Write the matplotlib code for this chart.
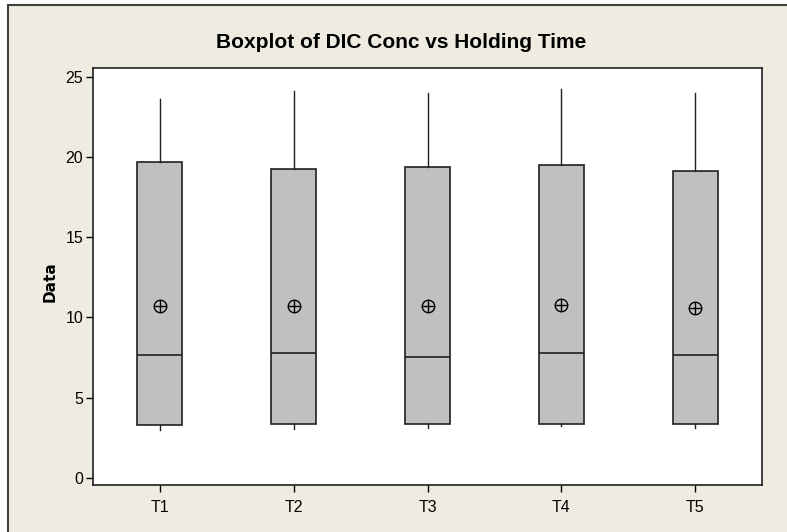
"""Minitab-style boxplot of DIC concentration by holding time."""

import matplotlib.pyplot as plt
from matplotlib.patches import Rectangle

plt.rcParams["font.family"] = ["Liberation Sans", "DejaVu Sans"]

groups = ["T1", "T2", "T3", "T4", "T5"]
q1 = [3.26, 3.37, 3.35, 3.35, 3.35]
medians = [7.65, 7.75, 7.56, 7.75, 7.67]
q3 = [19.70, 19.26, 19.35, 19.53, 19.10]
whisker_low = [3.0, 3.05, 3.1, 3.2, 3.1]
whisker_high = [23.6, 24.1, 24.0, 24.27, 24.0]
means = [10.7, 10.7, 10.68, 10.8, 10.6]

W, H = 787, 532
fig = plt.figure(figsize=(W / 100, H / 100), dpi=100, facecolor="white")

# beige panel with dark frame on top/left (image is cropped on the other sides)
panel = Rectangle((8 / W, -0.1), 1.2, 1.1 - 5 / H, transform=fig.transFigure,
                  facecolor="#EEEBE0", edgecolor="#404040", linewidth=1.5, zorder=-10)
fig.patches.append(panel)

ax = fig.add_axes([93 / W, 1 - 485 / H, (762 - 93) / W, (485 - 68) / H])
ax.set_facecolor("white")

stats = []
for i, g in enumerate(groups):
    stats.append({"label": g, "q1": q1[i], "med": medians[i], "q3": q3[i],
                  "whislo": whisker_low[i], "whishi": whisker_high[i], "fliers": []})

positions = list(range(1, len(groups) + 1))
ax.bxp(stats, positions=positions, widths=0.335, patch_artist=True, showcaps=False,
       boxprops=dict(facecolor="#C0C0C0", edgecolor="#202020", linewidth=1.2),
       medianprops=dict(color="#202020", linewidth=1.2),
       whiskerprops=dict(color="#202020", linewidth=1.0))

ax.plot(positions, means, linestyle="none", marker="o", markersize=9,
        markerfacecolor="none", markeredgecolor="black", markeredgewidth=1.0, zorder=5)
ax.plot(positions, means, linestyle="none", marker="+", markersize=9,
        markeredgecolor="black", markeredgewidth=1.0, zorder=5)

ax.set_xlim(0.5, 5.5)
ax.set_ylim(-0.45, 25.55)
ax.set_yticks([0, 5, 10, 15, 20, 25])
ax.set_xticks(positions)
ax.set_xticklabels(groups)
ax.tick_params(direction="out", length=5, width=1, colors="black", labelsize=11.5, pad=2)
ax.tick_params(axis="x", pad=6)
for s in ax.spines.values():
    s.set_color("#202020")
    s.set_linewidth(1.2)

fig.text(50 / W, 1 - 282 / H, "Data", rotation=90, ha="center", va="center",
         fontsize=11, fontweight="bold", family="DejaVu Sans")
fig.text(401 / W, 1 - 43 / H, "Boxplot of DIC Conc vs Holding Time", ha="center",
         va="center", fontsize=15, fontweight="bold")

fig.savefig("out.png", dpi=100, facecolor=fig.get_facecolor())
